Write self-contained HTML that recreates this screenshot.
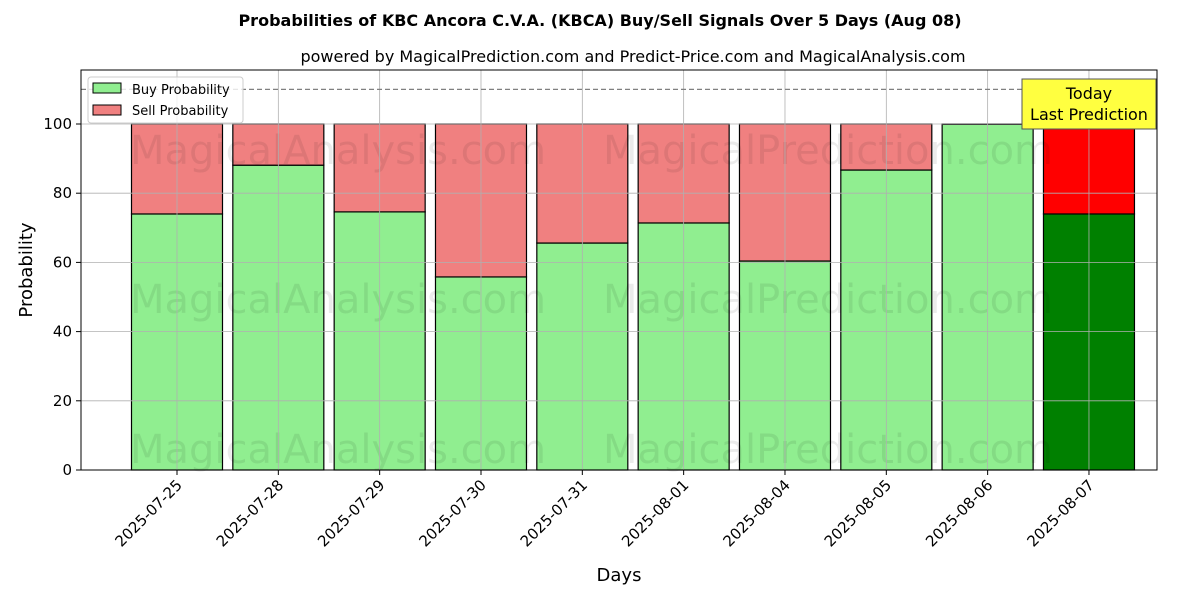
<!DOCTYPE html>
<html><head><meta charset="utf-8"><style>body{margin:0;background:#fff}svg{display:block;font-family:"DejaVu Sans","Liberation Sans",sans-serif}</style></head>
<body>
<svg id="c" width="1200" height="600" xmlns="http://www.w3.org/2000/svg"></svg>
<script>
const categories=["2025-07-25","2025-07-28","2025-07-29","2025-07-30","2025-07-31","2025-08-01","2025-08-04","2025-08-05","2025-08-06","2025-08-07"];
const buyValues=[74.0,88.1,74.6,55.8,65.6,71.4,60.4,86.7,99.9,74.0];
const sellValues=buyValues.map(v=>100-v);
const yTicks=[0,20,40,60,80,100];
const NS="http://www.w3.org/2000/svg";
const svg=document.getElementById('c');
const L=81,R=1157,T=70,B=470;
const y=v=>470-v*3.46;
const x=i=>177+i*101.33;
const bw=91;
function el(t,a,p){const e=document.createElementNS(NS,t);for(const k in a)e.setAttribute(k,a[k]);(p||svg).appendChild(e);return e;}
function txt(s,a){const e=el('text',a);e.textContent=s;return e;}
let t=txt("Probabilities of KBC Ancora C.V.A. (KBCA) Buy/Sell Signals Over 5 Days (Aug 08)",{x:600,y:26,'text-anchor':'middle','font-size':16,'font-weight':'bold'});

t=txt("powered by MagicalPrediction.com and Predict-Price.com and MagicalAnalysis.com",{x:633,y:62,'text-anchor':'middle','font-size':16});

categories.forEach((c,i)=>{
  const last=i===categories.length-1;
  const b=el('rect',{x:x(i)-bw/2,y:y(buyValues[i]),width:bw,height:y(0)-y(buyValues[i]),fill:last?'#008000':'#90ee90',stroke:'#000','stroke-width':1.2});
  
  const s=el('rect',{x:x(i)-bw/2,y:y(100),width:bw,height:y(buyValues[i])-y(100),fill:last?'#ff0000':'#f08080',stroke:'#000','stroke-width':1.2});
  
});
[[130,150],[603,150],[130,299],[603,299],[130,449],[603,449]].forEach((p,k)=>{
  const w=txt(k%2?"MagicalPrediction.com":"MagicalAnalysis.com",{x:p[0],y:p[1]+14,'font-size':40,fill:'#000','fill-opacity':0.08});
  
});
yTicks.forEach(v=>{
  const g=el('line',{x1:L,x2:R,y1:y(v),y2:y(v),stroke:'#b0b0b0','stroke-width':0.8});
  
  el('line',{x1:L-5,x2:L,y1:y(v),y2:y(v),stroke:'#000'});
  const l=txt(v,{x:L-9,y:y(v)+5,'text-anchor':'end','font-size':15});
  
});
categories.forEach((c,i)=>{
  const g=el('line',{x1:x(i),x2:x(i),y1:T,y2:B,stroke:'#b0b0b0','stroke-width':0.8});
  
  el('line',{x1:x(i),x2:x(i),y1:B,y2:B+5,stroke:'#000'});
  const l=txt(c,{x:x(i)+6,y:B+16,'text-anchor':'end','font-size':15,transform:`rotate(-45 ${x(i)+6} ${B+16})`});
  
});
const d=el('line',{x1:L,x2:R,y1:y(110),y2:y(110),stroke:'#808080','stroke-width':1.2,'stroke-dasharray':'5,3'});

const f=el('rect',{x:L,y:T,width:R-L,height:B-T,fill:'none',stroke:'#000','stroke-width':1});

const ann=el('rect',{x:1022,y:79,width:134,height:50,fill:'#ffff40',stroke:'#555','stroke-width':1});

txt("Today",{x:1089,y:99,'text-anchor':'middle','font-size':16});
txt("Last Prediction",{x:1089,y:120,'text-anchor':'middle','font-size':16});
const lg=el('rect',{x:88,y:77,width:155,height:46,fill:'#fff','fill-opacity':0.8,stroke:'#ccc',rx:3});

el('rect',{x:93,y:83,width:28,height:10,fill:'#90ee90',stroke:'#000'});
el('rect',{x:93,y:105,width:28,height:10,fill:'#f08080',stroke:'#000'});
t=txt("Buy Probability",{x:132,y:94,'font-size':13});
t=txt("Sell Probability",{x:132,y:115,'font-size':13});
t=txt("Days",{x:619,y:581,'text-anchor':'middle','font-size':18});
t=txt("Probability",{x:32,y:270,'text-anchor':'middle','font-size':18,transform:'rotate(-90 32 270)'});
</script>
</body></html>
